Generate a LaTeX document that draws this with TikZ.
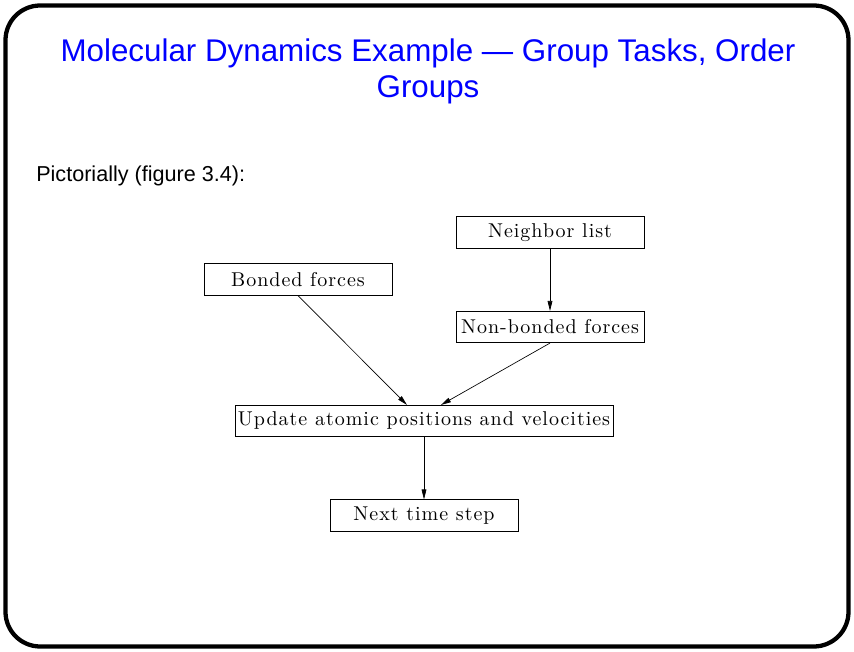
\documentclass[tikz,border=0pt]{standalone}
\usepackage{fontspec}
\usepackage{xcolor}
\usepackage{tikz}
\usetikzlibrary{arrows.meta,positioning}
\newfontfamily\titlefont[Ligatures=TeX]{Liberation Sans}
\newfontfamily\boxfont[LetterSpace=5]{lmroman10-regular.otf}
\definecolor{slideblue}{RGB}{0,0,255}

\begin{document}
\begin{tikzpicture}[x=0.75pt, y=-0.75pt,
    every node/.style={align=center},
    taskbox/.style={draw, line width=0.6pt, inner sep=0pt, minimum width=141pt, minimum height=23.5pt, font=\boxfont\fontsize{15}{17}\selectfont},
    flow/.style={line width=0.5pt, -{Triangle[length=7.5pt, width=3.6pt]}}]
    \useasboundingbox (0,0) rectangle (854,652);
    \draw[line width=3.2pt, rounded corners=26pt] (5.5,5.5) rectangle (848.5,646.5);

    \node[text=slideblue, font=\titlefont\fontsize{23.5}{27.5}\selectfont] (title) at (428,71.5) {Molecular Dynamics Example — Group Tasks, Order\\Groups};
    \node[anchor=west, inner sep=0pt, font=\titlefont\fontsize{16.2}{19}\selectfont] (intro) at (36,176) {Pictorially (figure 3.4):};

    \node[taskbox] (neighbor) at (550,232.5) {Neighbor list};
    \node[taskbox] (bonded) at (298,279.5) {Bonded forces};
    \node[taskbox] (nonbonded) at (550,327) {Non-bonded forces};
    \node[taskbox, minimum width=283.5pt] (update) at (424,421) {Update atomic positions and velocities};
    \node[taskbox] (next) at (424,515.5) {Next time step};

    \draw[flow] (neighbor) -- (nonbonded);
    \draw[flow] (bonded.south) -- ([xshift=-12.75pt]update.north);
    \draw[flow] (nonbonded.south) -- ([xshift=12.75pt]update.north);
    \draw[flow] (update) -- (next);
\end{tikzpicture}
\end{document}
